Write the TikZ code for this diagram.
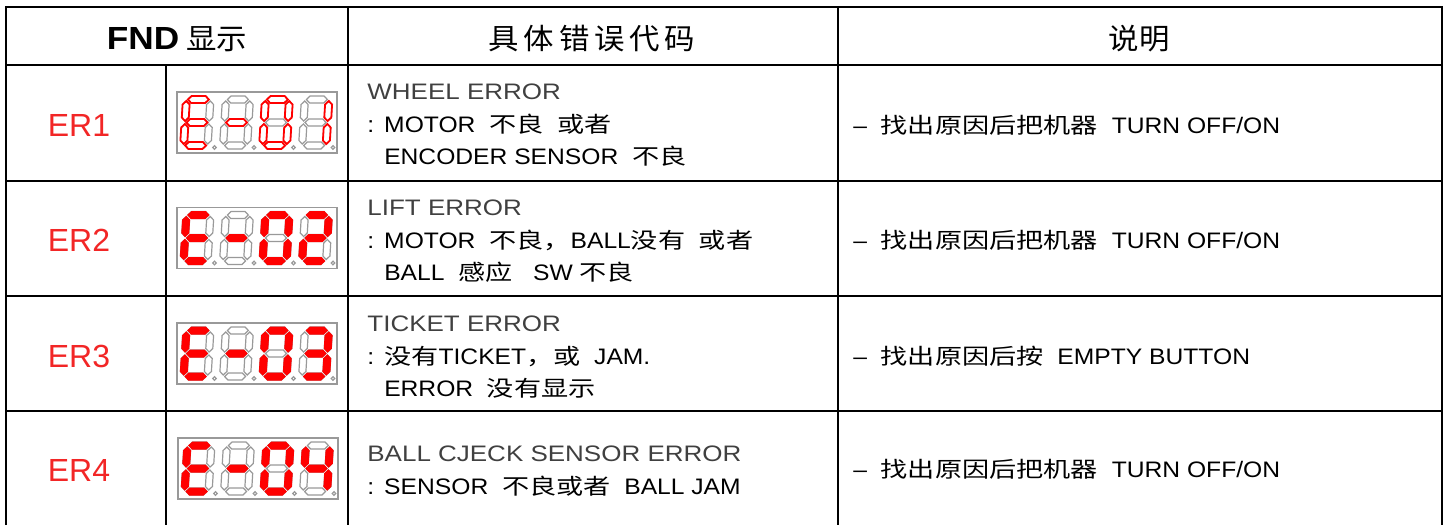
\documentclass[tikz,border=0pt]{standalone}
\usepackage{fontspec}
\setmainfont{Liberation Sans}[FakeStretch=1.1]
\newfontfamily\cjkfont{Noto Sans CJK SC}[FakeStretch=1.25,Scale=0.97]
\newfontfamily\hdcjkfont{Noto Sans CJK SC}[FakeStretch=1.05]
\newfontfamily\errfont{Liberation Sans}[FakeStretch=1.16]
\newfontfamily\codefont{Liberation Sans}
\definecolor{SegOffClr}{rgb}{0.6,0.6,0.6}
\definecolor{SegOnClr}{rgb}{1,0,0}
\definecolor{ErClr}{rgb}{0.95,0.15,0.15}
\definecolor{TitleClr}{rgb}{0.25,0.25,0.25}

\newcommand{\zhtxt}[1]{{\cjkfont #1}}
\newcommand{\colsep}{:\hspace{5pt}}
\newcommand{\hseg}[3]{\draw[#1] (#2,#3) -- ++(3.5,-3.5) -- ++(14,0) -- ++(3.5,3.5) -- ++(-3.5,3.5) -- ++(-14,0) -- cycle;}
\newcommand{\vseg}[3]{\draw[#1] (#2,#3) -- ++(3.5,3.5) -- ++(0,13) -- ++(-3.5,3.5) -- ++(-3.5,-3.5) -- ++(0,-13) -- cycle;}
\newcommand{\sega}[1]{\hseg{#1}{-10.5}{-23}}
\newcommand{\segg}[1]{\hseg{#1}{-10.5}{0}}
\newcommand{\segd}[1]{\hseg{#1}{-10.5}{23}}
\newcommand{\segf}[1]{\vseg{#1}{-12}{-21.5}}
\newcommand{\segb}[1]{\vseg{#1}{12}{-21.5}}
\newcommand{\sege}[1]{\vseg{#1}{-12}{1.5}}
\newcommand{\segc}[1]{\vseg{#1}{12}{1.5}}
\newcommand{\FndDigit}[4]{%
\begin{scope}[shift={(#1,#2)},xslant=0.06]
\sega{segoff}\segb{segoff}\segc{segoff}\segd{segoff}\sege{segoff}\segf{segoff}\segg{segoff}
\draw[segoff] (19,25) circle (0.9pt);
\foreach \s in {#3}{\csname seg\s\endcsname{#4}}
\end{scope}}

\tikzset{
  tabline/.style={line width=0.7pt,black},
  fndbox/.style={draw=SegOffClr,line width=0.8pt,minimum width=80pt,minimum height=30.5pt,inner sep=0pt},
  segoff/.style={draw=SegOffClr,line width=0.6pt,fill=white},
  segon/.style={draw=SegOnClr,fill=SegOnClr,line width=0.5pt},
  segthin/.style={draw=SegOnClr,line width=0.9pt,fill=white},
  hdtext/.style={anchor=base,inner sep=0pt,font=\hdcjkfont\fontsize{14.5}{16}\selectfont},
  ertext/.style={anchor=base,inner sep=0pt,text=ErClr,font=\codefont\fontsize{16}{18}\selectfont},
  codeline/.style={anchor=base west,inner sep=0pt,font=\fontsize{11.2}{14}\selectfont},
  codetitle/.style={codeline,text=TitleClr,font=\errfont\fontsize{11.2}{14}\selectfont},
  noteline/.style={anchor=base west,inner sep=0pt,font=\fontsize{11.2}{14}\selectfont}
}

\begin{document}
\begin{tikzpicture}[x=0.5pt,y=-0.5pt]
\useasboundingbox (0,0) rectangle (1450,525);

% table
\draw[tabline] (6,525) -- (6,7) -- (1442,7) -- (1442,525);
\draw[tabline] (6,65) -- (1442,65);
\draw[tabline] (6,181) -- (1442,181);
\draw[tabline] (6,296) -- (1442,296);
\draw[tabline] (6,411) -- (1442,411);
\draw[tabline] (166,65) -- (166,525);
\draw[tabline] (348,7) -- (348,525);
\draw[tabline] (838,7) -- (838,525);

\node[hdtext] (hdfnd) at (177,49) {{\rmfamily\fontsize{16}{18}\selectfont\bfseries FND}\ 显示};
\node[hdtext] (hdcode) at (592,49) {具\,体\,错\,误\,代\,码};
\node[hdtext] (hdnote) at (1139,49) {说明};

\node[ertext] (er1) at (79,136.5) {ER1};
\node[ertext] (er2) at (79,251.5) {ER2};
\node[ertext] (er3) at (79,367.5) {ER3};
\node[ertext] (er4) at (79,481.5) {ER4};

% displays
\node[fndbox] (fnd1) at (257,122.5) {};
\FndDigit{197}{122.5}{a,f,g,e,d}{segthin}
\FndDigit{236.5}{122.5}{g}{segthin}
\FndDigit{276}{122.5}{a,b,c,d,e,f}{segthin}
\FndDigit{315.5}{122.5}{b,c}{segthin}

\node[fndbox] (fnd2) at (257,238) {};
\FndDigit{197}{238}{a,f,g,e,d}{segon}
\FndDigit{236.5}{238}{g}{segon}
\FndDigit{276}{238}{a,b,c,d,e,f}{segon}
\FndDigit{315.5}{238}{a,b,g,e,d}{segon}

\node[fndbox] (fnd3) at (257,353.5) {};
\FndDigit{197}{353.5}{a,f,g,e,d}{segon}
\FndDigit{236.5}{353.5}{g}{segon}
\FndDigit{276}{353.5}{a,b,c,d,e,f}{segon}
\FndDigit{315.5}{353.5}{a,b,g,c,d}{segon}

\node[fndbox] (fnd4) at (258,468.5) {};
\FndDigit{198}{468.5}{a,f,g,e,d}{segon}
\FndDigit{237.5}{468.5}{g}{segon}
\FndDigit{277}{468.5}{a,b,c,d,e,f}{segon}
\FndDigit{316.5}{468.5}{f,g,b,c}{segon}

% error codes
\node[codetitle] (code1a) at (367,99) {WHEEL ERROR};
\node[codeline] (code1b) at (367,132) {\colsep MOTOR~ \zhtxt{不良}~ \zhtxt{或者}};
\node[codeline] (code1c) at (367,164) {\phantom{\colsep}ENCODER SENSOR~ \zhtxt{不良}};

\node[codetitle] (code2a) at (367,215) {LIFT ERROR};
\node[codeline] (code2b) at (367,248) {\colsep MOTOR~ \zhtxt{不良，}BALL\zhtxt{没有}~ \zhtxt{或者}};
\node[codeline] (code2c) at (367,280) {\phantom{\colsep}BALL~ \zhtxt{感应}~~ SW \zhtxt{不良}};

\node[codetitle] (code3a) at (367,331) {TICKET ERROR};
\node[codeline] (code3b) at (367,364) {\colsep\zhtxt{没有}TICKET\zhtxt{，或}~ JAM.};
\node[codeline] (code3c) at (367,396) {\phantom{\colsep}ERROR~ \zhtxt{没有显示}};

\node[codetitle] (code4a) at (367,461) {BALL CJECK SENSOR ERROR};
\node[codeline] (code4b) at (367,494) {\colsep SENSOR~ \zhtxt{不良或者}~ BALL JAM};

% notes
\node[noteline] (note1) at (853,133) {–~ \zhtxt{找出原因后把机器}~ TURN OFF/ON};
\node[noteline] (note2) at (853,248) {–~ \zhtxt{找出原因后把机器}~ TURN OFF/ON};
\node[noteline] (note3) at (853,364) {–~ \zhtxt{找出原因后按}~ EMPTY BUTTON};
\node[noteline] (note4) at (853,477) {–~ \zhtxt{找出原因后把机器}~ TURN OFF/ON};
\end{tikzpicture}
\end{document}
